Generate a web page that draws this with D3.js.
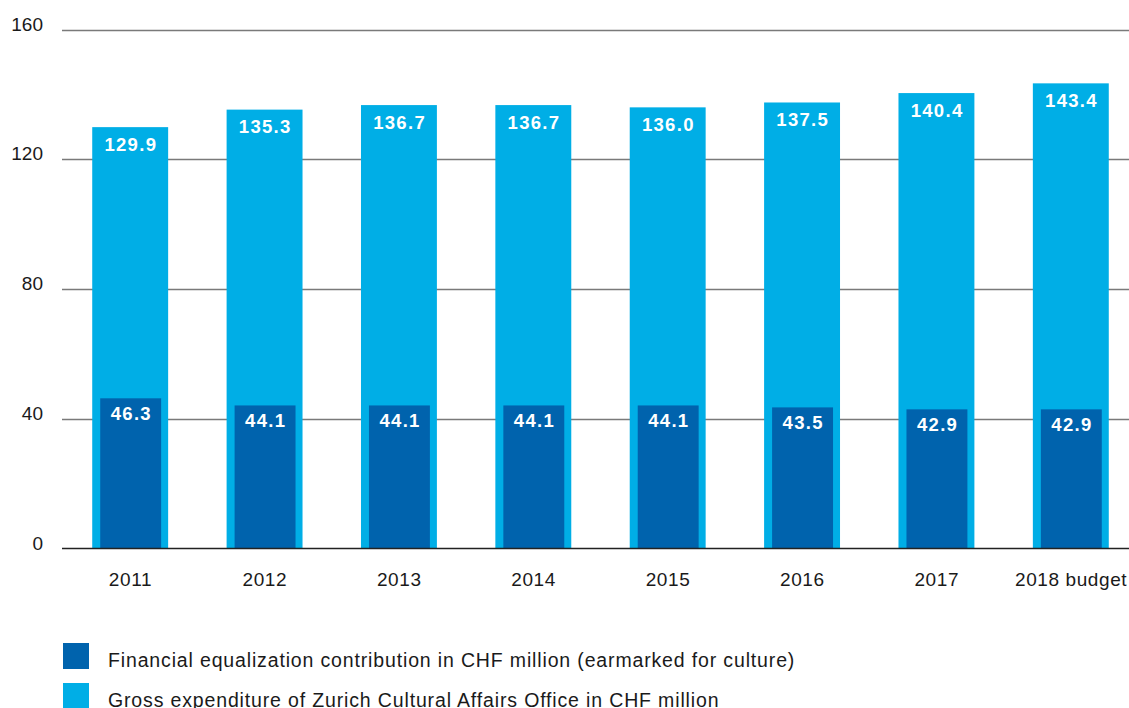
<!DOCTYPE html>
<html>
<head>
<meta charset="utf-8">
<script src="https://cdn.jsdelivr.net/npm/d3@7"></script>
<style>
  html, body { margin: 0; padding: 0; background: #fff; }
  svg { display: block; font-family: "Liberation Sans", Arial, Helvetica, sans-serif; }
</style>
</head>
<body>
<svg id="chart" width="1129" height="708"></svg>
<script>
// Zurich culture budget, CHF million
const years = ["2011", "2012", "2013", "2014", "2015", "2016", "2017", "2018 budget"];
const grossExpenditure = [129.9, 135.3, 136.7, 136.7, 136.0, 137.5, 140.4, 143.4];
const equalization = [46.3, 44.1, 44.1, 44.1, 44.1, 43.5, 42.9, 42.9];
const yTicks = [0, 40, 80, 120, 160];
const legendLabels = [
  "Financial equalization contribution in CHF million (earmarked for culture)",
  "Gross expenditure of Zurich Cultural Affairs Office in CHF million"
];

const lightBlue = "#00aee6";
const darkBlue = "#0063ad";
const textColor = "#1a1a1a";

const svg = d3.select("#chart");
const plotLeft = 63, plotRight = 1138, plotTop = 29.5, plotBottom = 548.5;

const x = d3.scaleBand().domain(years).range([plotLeft, plotRight])
  .paddingInner(0.435).paddingOuter(0.2175);
const y = d3.scaleLinear().domain([0, 160]).range([plotBottom, plotTop]);

// gridlines
svg.append("g").selectAll("line")
  .data(yTicks.filter(d => d > 0))
  .join("line")
  .attr("x1", 62).attr("x2", 1129)
  .attr("y1", d => Math.round(y(d)) + 0.5).attr("y2", d => Math.round(y(d)) + 0.5)
  .attr("stroke", "#7a7a7a").attr("stroke-width", 1.3);

// y tick labels
svg.append("g").selectAll("text")
  .data(yTicks)
  .join("text")
  .attr("x", 43).attr("y", d => y(d) + 1)
  .attr("text-anchor", "end")
  .attr("font-size", 19).attr("fill", textColor)
  .text(d => d);

// gross expenditure bars
const innerPad = 8;
svg.append("g").selectAll("rect")
  .data(years)
  .join("rect")
  .attr("x", d => x(d)).attr("width", x.bandwidth())
  .attr("y", (d, i) => y(grossExpenditure[i]))
  .attr("height", (d, i) => y(0) - y(grossExpenditure[i]))
  .attr("fill", lightBlue);

// equalization contribution bars
svg.append("g").selectAll("rect")
  .data(years)
  .join("rect")
  .attr("x", d => x(d) + innerPad).attr("width", x.bandwidth() - 2 * innerPad + 1)
  .attr("y", (d, i) => y(equalization[i]))
  .attr("height", (d, i) => y(0) - y(equalization[i]))
  .attr("fill", darkBlue);

// value labels
const valueSpacing = 1.3;
svg.append("g").selectAll("text")
  .data(years)
  .join("text")
  .attr("x", d => x(d) + x.bandwidth() / 2 + valueSpacing / 2)
  .attr("y", (d, i) => y(grossExpenditure[i]) + 23.5)
  .attr("text-anchor", "middle")
  .attr("font-size", 18.5).attr("font-weight", "bold").attr("fill", "#fff")
  .attr("letter-spacing", valueSpacing)
  .text((d, i) => grossExpenditure[i].toFixed(1));

svg.append("g").selectAll("text")
  .data(years)
  .join("text")
  .attr("x", d => x(d) + x.bandwidth() / 2 + 0.5 + valueSpacing / 2)
  .attr("y", (d, i) => y(equalization[i]) + 22)
  .attr("text-anchor", "middle")
  .attr("font-size", 18.5).attr("font-weight", "bold").attr("fill", "#fff")
  .attr("letter-spacing", valueSpacing)
  .text((d, i) => equalization[i].toFixed(1));

// baseline
svg.append("line")
  .attr("x1", 62).attr("x2", 1129)
  .attr("y1", y(0)).attr("y2", y(0))
  .attr("stroke", "#222").attr("stroke-width", 1.3);

// x labels
svg.append("g").selectAll("text")
  .data(years)
  .join("text")
  .attr("x", d => x(d) + x.bandwidth() / 2 + 0.3)
  .attr("y", 586)
  .attr("text-anchor", "middle")
  .attr("font-size", 19).attr("fill", textColor)
  .attr("letter-spacing", 0.6)
  .text(d => d);

// legend
const legend = svg.append("g").selectAll("g")
  .data(legendLabels)
  .join("g")
  .attr("transform", (d, i) => `translate(63, ${643 + i * 40})`);
legend.append("rect")
  .attr("width", 26).attr("height", 26)
  .attr("fill", (d, i) => i === 0 ? darkBlue : lightBlue);
legend.append("text")
  .attr("x", 45).attr("y", 24)
  .attr("font-size", 19.5).attr("fill", textColor)
  .attr("letter-spacing", 0.85)
  .text(d => d);
</script>
</body>
</html>
